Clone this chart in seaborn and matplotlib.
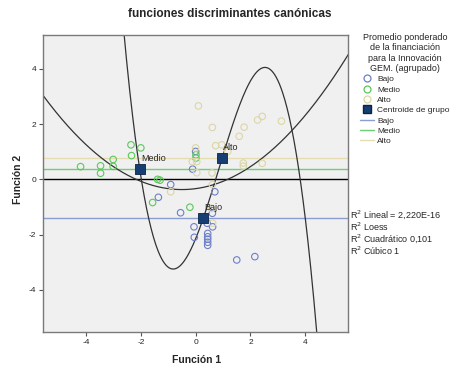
import numpy as np
import pandas as pd
import matplotlib
matplotlib.use('Agg')
import matplotlib.pyplot as plt
import seaborn as sns
from matplotlib.lines import Line2D

# discriminant scores (Función 1, Función 2)
groups = ['Bajo', 'Medio', 'Alto']

bajo_f1 = [-0.91, -1.36, -0.55, 0.00, -0.11, 0.70, 0.61, 0.62, 0.42, -0.06,
           -0.05, 0.44, 0.44, 0.44, 0.44, 0.44, 1.50, 2.16]
bajo_f2 = [-0.19, -0.65, -1.21, 1.01, 0.37, -0.45, -1.23, -1.72, -1.59, -1.72,
           -2.10, -1.96, -2.08, -2.17, -2.28, -2.39, -2.92, -2.80]

medio_f1 = [-4.20, -3.47, -3.47, -3.01, -3.01, -2.36, -2.00, -2.34, -1.39, -1.30,
            -1.57, -0.21, 0.01, 0.01]
medio_f2 = [0.46, 0.49, 0.22, 0.72, 0.47, 1.25, 1.14, 0.86, 0.00, -0.03,
            -0.84, -1.01, 0.89, 0.77]

alto_f1 = [0.10, 0.61, 1.77, 1.59, 2.26, 2.43, 3.13, 0.00, 0.73, 0.95, 1.17,
           1.74, 1.74, 2.43, -0.12, 0.04, 0.04, 0.60, -0.91, 0.61, 0.58, 0.62]
alto_f2 = [2.66, 1.88, 1.89, 1.56, 2.15, 2.28, 2.11, 1.14, 1.22, 1.25, 1.01,
           0.59, 0.48, 0.58, 0.64, 0.64, 0.24, 0.23, -0.45, -0.19, -1.05, -1.59]

# group centroids
centroid_f1 = [0.28, -2.03, 0.95]
centroid_f2 = [-1.39, 0.39, 0.76]

# fitted curves (coefficients, highest power first)
quad_coefs = [0.1328, 0.1328, -0.337]
cubic_coefs = [-0.3887, 0.9969, 2.419, -2.151]

r2_labels = ['R$^2$ Lineal = 2,220E-16', 'R$^2$ Loess',
             'R$^2$ Cuadrático 0,101', 'R$^2$ Cúbico 1']

point_colors = {'Bajo': '#6d7fc8', 'Medio': '#5cc75c', 'Alto': '#dcd6a6'}
line_colors = {'Bajo': '#8c9dd2', 'Medio': '#6fd06f', 'Alto': '#e6dcb2'}

df = pd.DataFrame({
    'f1': bajo_f1 + medio_f1 + alto_f1,
    'f2': bajo_f2 + medio_f2 + alto_f2,
    'grupo': ['Bajo'] * len(bajo_f1) + ['Medio'] * len(medio_f1) + ['Alto'] * len(alto_f1),
})

sns.set_style('white')
plt.rcParams['font.family'] = ['Liberation Sans', 'DejaVu Sans']
plt.rcParams['axes.unicode_minus'] = False

fig = plt.figure(figsize=(4.6, 3.73), dpi=100)
ax = fig.add_axes([0.0941, 0.1107, 0.663, 0.7955])
ax.set_facecolor('#f0f0f0')

xlim = (-5.56, 5.57)
ylim = (-5.52, 5.23)

# linear fits per group (horizontal) and total
for g, yv in zip(groups, centroid_f2):
    ax.axhline(yv, color=line_colors[g], lw=1, zorder=1)
ax.axhline(0, color='black', lw=1, zorder=1)

xs = np.linspace(xlim[0], xlim[1], 400)
sns.lineplot(x=xs, y=np.polyval(quad_coefs, xs), ax=ax, color='#333333', lw=0.9, zorder=2)
sns.lineplot(x=xs, y=np.polyval(cubic_coefs, xs), ax=ax, color='#333333', lw=0.9, zorder=2)

sns.scatterplot(data=df, x='f1', y='f2', hue='grupo', palette=point_colors,
                s=22, legend=False, ax=ax, zorder=3)
pts = ax.collections[-1]
fc = pts.get_facecolors()
pts.set_edgecolors(fc)
pts.set_facecolors('none')
pts.set_linewidth(0.8)

sns.scatterplot(x=centroid_f1, y=centroid_f2, marker='s', s=48, color='#163e73',
                edgecolor='#0b2345', linewidth=0.6, ax=ax, zorder=4, legend=False)
for g, cx, cy in zip(groups, centroid_f1, centroid_f2):
    ax.annotate(g, (cx, cy), xytext=(1, 7.5), textcoords='offset points',
                fontsize=6.5, ha='left', va='center', zorder=5)

ax.set_xlim(xlim)
ax.set_ylim(ylim)
ax.set_xticks([-4, -2, 0, 2, 4])
ax.set_yticks([-4, -2, 0, 2, 4])
ax.set_xlabel('')
ax.set_ylabel('')
ax.tick_params(direction='out', length=3, width=0.8, labelsize=6, color='#555555',
               left=True, bottom=True, pad=2)
for sp in ax.spines.values():
    sp.set_visible(True)
    sp.set_color('#7a7a7a')
    sp.set_linewidth(1)

fig.text(0.5, 1 - 14 / 373, 'funciones discriminantes canónicas', ha='center', va='center',
         fontsize=8.5, fontweight='bold')
fig.text(196.5 / 460, 1 - 360 / 373, 'Función 1', ha='center', va='center',
         fontsize=7.5, fontweight='bold')
fig.text(18 / 460, 1 - 179 / 373, 'Función 2', ha='center', va='center', rotation=90,
         fontsize=7.5, fontweight='bold')

handles = [Line2D([], [], marker='o', ls='none', mfc='none', mec=point_colors[g], ms=5,
                  mew=0.9, label=g) for g in groups]
handles.append(Line2D([], [], marker='s', ls='none', mfc='#163e73', mec='#0b2345', ms=5.5,
                      label='Centroide de grupo'))
handles += [Line2D([], [], color=line_colors[g], lw=1, label=g) for g in groups]
leg = fig.legend(handles=handles, loc='upper center', bbox_to_anchor=(405 / 460, 1 - 27 / 373),
                 frameon=False, title='Promedio ponderado\nde la financiación\npara la Innovación\nGEM. (agrupado)',
                 fontsize=6, title_fontsize=6.5, labelspacing=0.3, handlelength=1.6,
                 handletextpad=0.4, borderpad=0.2)
leg.get_title().set_multialignment('center')

for i, lab in enumerate(r2_labels):
    fig.text(350 / 460, 1 - (215 + 12 * i) / 373, lab, ha='left', va='center', fontsize=6.5)

fig.savefig('out.png', dpi=100)
